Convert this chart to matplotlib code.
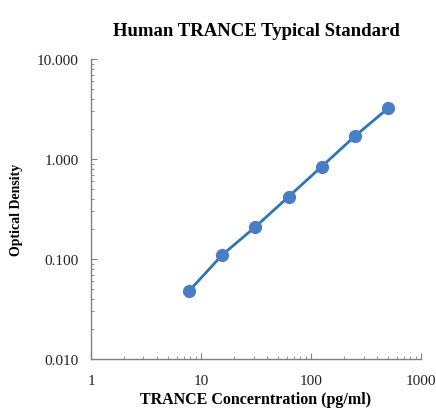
import numpy as np
import matplotlib.pyplot as plt
from matplotlib.ticker import LogLocator, FixedFormatter, FixedLocator

plt.rcParams['font.family'] = ['Liberation Serif', 'DejaVu Serif']

# 표준곡선 데이터
conc = [7.8, 15.6, 31.25, 62.5, 125, 250, 500]
od = [0.048, 0.11, 0.21, 0.42, 0.84, 1.69, 3.21]

x_ticks = [1, 10, 100, 1000]
x_labels = ['1', '10', '100', '1000']
y_ticks = [0.01, 0.1, 1, 10]
y_labels = ['0.010', '0.100', '1.000', '10.000']

fig = plt.figure(figsize=(4.36, 4.14), dpi=100)
ax = fig.add_axes([0.2087, 0.1304, 0.757, 0.7246])

ax.plot(conc, od, color='#2E75B6', lw=2.0, marker='o', ms=8.5,
        markerfacecolor='#4A7EC4', markeredgecolor='#4A7EC4', clip_on=False)

ax.set_xscale('log')
ax.set_yscale('log')
ax.set_xlim(1, 1000)
ax.set_ylim(0.01, 10)

ax.xaxis.set_major_locator(FixedLocator(x_ticks))
ax.xaxis.set_major_formatter(FixedFormatter(x_labels))
ax.yaxis.set_major_locator(FixedLocator(y_ticks))
ax.yaxis.set_major_formatter(FixedFormatter(y_labels))
ax.xaxis.set_minor_locator(LogLocator(base=10, subs=np.arange(2, 10)))
ax.yaxis.set_minor_locator(LogLocator(base=10, subs=np.arange(2, 10)))
ax.xaxis.set_minor_formatter(plt.NullFormatter())
ax.yaxis.set_minor_formatter(plt.NullFormatter())

for s in ['top', 'right']:
    ax.spines[s].set_visible(False)
for s in ['left', 'bottom']:
    ax.spines[s].set_color('#808080')
    ax.spines[s].set_linewidth(1.0)

ax.tick_params(which='major', direction='in', length=4, color='#808080',
               labelsize=11, labelcolor='#222222')
ax.tick_params(which='minor', direction='in', length=2.5, color='#808080')
ax.tick_params(axis='x', which='major', pad=11)
ax.tick_params(axis='y', which='major', pad=9)

ax.set_title('Human TRANCE Typical Standard', fontsize=13.5, fontweight='bold', pad=17)
ax.set_xlabel('TRANCE Concerntration (pg/ml)', fontsize=11.5, fontweight='bold', labelpad=3)
ax.set_ylabel('Optical Density', fontsize=10, fontweight='bold', labelpad=10)

fig.savefig('out.png', dpi=100)
